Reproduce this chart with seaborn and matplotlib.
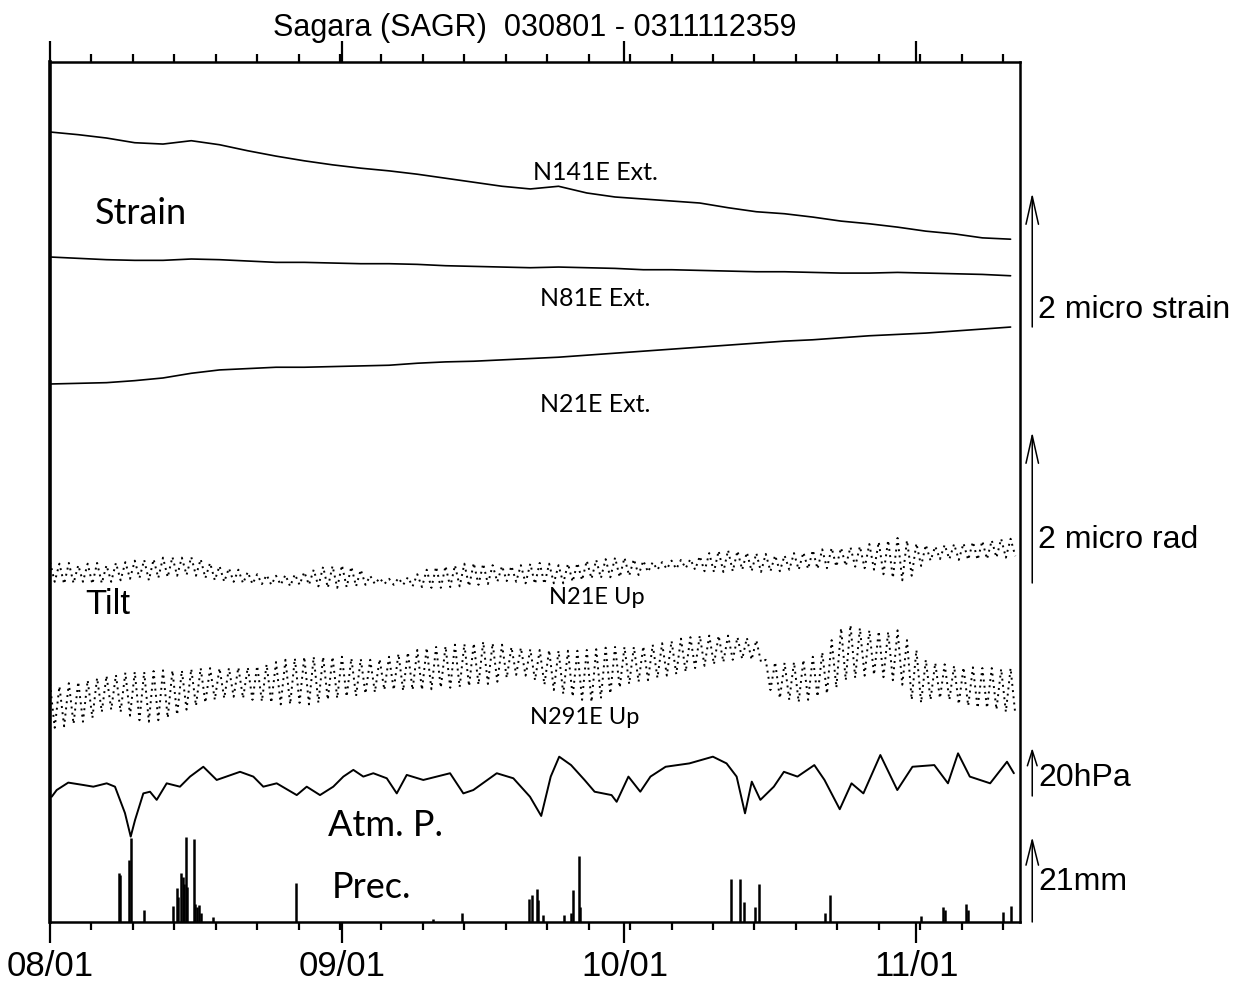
import numpy as np
import pandas as pd
import seaborn as sns
import matplotlib.pyplot as plt

sns.set_style('white')
plt.rcParams['font.family'] = ['Liberation Sans', 'DejaVu Sans']
plt.rcParams['text.color'] = 'black'
plt.rcParams['xtick.color'] = 'black'

# strain, microstrain relative to 08/01, every 3 days
strain_days = [0, 3, 6, 9, 12, 15, 18, 21, 24, 27, 30, 33, 36, 39, 42, 45, 48, 51,
               54, 57, 60, 63, 66, 69, 72, 75, 78, 81, 84, 87, 90, 93, 96, 99, 102]
n141e_ext = [0.00, -0.04, -0.09, -0.16, -0.18, -0.13, -0.19, -0.28, -0.36, -0.43, -0.49, -0.54,
             -0.58, -0.63, -0.69, -0.75, -0.81, -0.85, -0.81, -0.91, -0.97, -1.00, -1.03, -1.06,
             -1.13, -1.19, -1.22, -1.27, -1.33, -1.37, -1.42, -1.48, -1.52, -1.58, -1.60]
n81e_ext = [0.00, -0.02, -0.04, -0.05, -0.05, -0.03, -0.04, -0.06, -0.08, -0.08, -0.09, -0.10,
            -0.10, -0.11, -0.13, -0.14, -0.15, -0.16, -0.15, -0.16, -0.17, -0.19, -0.19, -0.20,
            -0.21, -0.22, -0.22, -0.23, -0.24, -0.24, -0.23, -0.24, -0.25, -0.26, -0.28]
n21e_ext = [0.00, 0.01, 0.02, 0.05, 0.09, 0.16, 0.21, 0.23, 0.25, 0.25, 0.26, 0.27,
            0.28, 0.31, 0.33, 0.34, 0.36, 0.38, 0.40, 0.43, 0.46, 0.49, 0.52, 0.55,
            0.58, 0.61, 0.64, 0.66, 0.69, 0.72, 0.74, 0.76, 0.79, 0.82, 0.85]

# tilt, microrad, daily high / low
tilt_days = np.arange(103)
n21e_up_hi = [0.17, 0.15, 0.16, 0.13, 0.15, 0.16, 0.13, 0.16, 0.17, 0.19,
              0.20, 0.21, 0.23, 0.24, 0.23, 0.24, 0.21, 0.16, 0.12, 0.09,
              0.07, 0.04, 0.01, 0.00, -0.01, 0.00, 0.01, 0.04, 0.07, 0.11,
              0.12, 0.13, 0.11, 0.07, -0.01, -0.04, -0.05, -0.04, -0.03, 0.01,
              0.07, 0.11, 0.12, 0.13, 0.15, 0.16, 0.15, 0.13, 0.12, 0.12,
              0.13, 0.15, 0.16, 0.15, 0.13, 0.15, 0.16, 0.19, 0.20, 0.21,
              0.23, 0.23, 0.21, 0.19, 0.17, 0.17, 0.19, 0.20, 0.21, 0.25,
              0.29, 0.32, 0.33, 0.32, 0.30, 0.29, 0.28, 0.26, 0.26, 0.29,
              0.30, 0.33, 0.34, 0.36, 0.36, 0.37, 0.38, 0.41, 0.44, 0.46,
              0.49, 0.46, 0.42, 0.40, 0.38, 0.40, 0.41, 0.42, 0.44, 0.45,
              0.46, 0.48, 0.48]
n21e_up_lo = [-0.09, -0.12, -0.11, -0.09, -0.12, -0.11, -0.09, -0.07, -0.05, -0.04,
              -0.07, -0.04, -0.03, -0.01, 0.00, -0.01, -0.04, -0.07, -0.09, -0.09,
              -0.11, -0.12, -0.12, -0.13, -0.13, -0.15, -0.13, -0.13, -0.15, -0.17,
              -0.17, -0.16, -0.15, -0.13, -0.12, -0.12, -0.13, -0.13, -0.15, -0.16,
              -0.17, -0.17, -0.16, -0.15, -0.15, -0.13, -0.12, -0.09, -0.08, -0.09,
              -0.11, -0.12, -0.12, -0.11, -0.11, -0.09, -0.07, -0.05, -0.04, -0.03,
              -0.03, -0.01, 0.00, 0.04, 0.07, 0.08, 0.08, 0.09, 0.07, 0.05,
              0.04, 0.04, 0.05, 0.07, 0.05, 0.04, 0.05, 0.05, 0.07, 0.07,
              0.08, 0.08, 0.09, 0.11, 0.12, 0.11, 0.09, 0.07, 0.01, -0.04,
              -0.07, -0.01, 0.12, 0.19, 0.21, 0.21, 0.20, 0.20, 0.20, 0.21,
              0.23, 0.23, 0.25]
n291e_up_hi = [0.08, 0.05, 0.09, 0.11, 0.13, 0.16, 0.19, 0.20, 0.23, 0.24,
               0.24, 0.25, 0.26, 0.26, 0.26, 0.28, 0.29, 0.29, 0.29, 0.29,
               0.30, 0.30, 0.32, 0.34, 0.37, 0.40, 0.42, 0.44, 0.44, 0.44,
               0.44, 0.44, 0.42, 0.41, 0.40, 0.41, 0.44, 0.48, 0.50, 0.53,
               0.56, 0.57, 0.58, 0.60, 0.61, 0.62, 0.64, 0.62, 0.60, 0.57,
               0.56, 0.54, 0.53, 0.53, 0.52, 0.52, 0.52, 0.53, 0.54, 0.56,
               0.57, 0.57, 0.57, 0.58, 0.60, 0.62, 0.65, 0.68, 0.70, 0.72,
               0.72, 0.72, 0.72, 0.70, 0.69, 0.66, 0.40, 0.37, 0.36, 0.37,
               0.40, 0.44, 0.50, 0.66, 0.82, 0.86, 0.82, 0.79, 0.78, 0.77,
               0.79, 0.66, 0.53, 0.40, 0.36, 0.34, 0.32, 0.30, 0.30, 0.29,
               0.29, 0.28, 0.29]
n291e_up_lo = [-0.50, -0.48, -0.45, -0.42, -0.37, -0.29, -0.26, -0.29, -0.34, -0.40,
               -0.42, -0.40, -0.37, -0.33, -0.26, -0.21, -0.17, -0.13, -0.11, -0.09,
               -0.11, -0.13, -0.15, -0.17, -0.19, -0.19, -0.17, -0.19, -0.17, -0.13,
               -0.11, -0.09, -0.08, -0.05, -0.03, 0.00, 0.00, -0.01, 0.00, 0.00,
               0.01, 0.03, 0.03, 0.04, 0.05, 0.07, 0.08, 0.11, 0.16, 0.20,
               0.19, 0.13, 0.07, 0.00, -0.05, -0.09, -0.13, -0.16, -0.11, -0.05,
               0.03, 0.08, 0.11, 0.13, 0.16, 0.19, 0.21, 0.24, 0.29, 0.32,
               0.34, 0.37, 0.40, 0.41, 0.40, 0.37, 0.00, -0.11, -0.13, -0.16,
               -0.13, -0.09, -0.05, 0.03, 0.13, 0.16, 0.19, 0.20, 0.17, 0.13,
               0.07, -0.13, -0.17, -0.13, -0.11, -0.13, -0.19, -0.21, -0.24, -0.24,
               -0.26, -0.29, -0.32]

# atmospheric pressure, hPa
atm_days = [0.18, 0.71, 1.94, 3.54, 4.60, 6.02, 6.90, 7.43, 7.96, 8.57, 9.03, 9.91,
            10.62, 11.33, 12.39, 13.80, 14.87, 16.28, 17.70, 20.18, 21.59, 22.65, 24.07,
            26.20, 27.26, 28.67, 30.08, 31.15, 32.21, 33.27, 34.33, 35.76, 36.82, 37.88,
            39.64, 42.48, 43.89, 44.95, 47.44, 49.20, 50.97, 52.16, 53.17, 54.07, 55.33,
            56.76, 57.83, 59.63, 60.17, 61.42, 62.68, 63.76, 65.37, 67.89, 70.39, 71.84,
            72.91, 73.80, 74.52, 75.43, 76.86, 77.93, 79.37, 81.16, 82.24, 83.86, 85.11,
            86.37, 88.17, 89.97, 91.58, 93.90, 95.35, 96.42, 97.67, 99.83, 101.62, 102.35]
atm_hpa = [1005.1, 1007.9, 1011.0, 1010.0, 1009.3, 1010.7, 1009.3, 1003.8, 998.3, 988.5,
           995.4, 1006.5, 1007.2, 1003.8, 1010.7, 1009.3, 1013.5, 1017.6, 1012.1, 1015.5,
           1013.5, 1009.3, 1010.7, 1005.8, 1009.3, 1005.8, 1009.3, 1013.5, 1016.3, 1013.5,
           1014.9, 1012.8, 1006.5, 1014.2, 1012.1, 1014.9, 1006.5, 1007.9, 1014.9, 1012.8,
           1005.1, 997.1, 1013.5, 1021.8, 1018.3, 1012.1, 1007.2, 1005.8, 1003.0, 1013.5,
           1007.2, 1013.5, 1017.6, 1019.0, 1021.8, 1019.0, 1013.5, 998.2, 1011.4, 1003.8,
           1009.3, 1015.5, 1013.5, 1018.3, 1012.1, 999.9, 1010.7, 1006.5, 1022.5, 1007.9,
           1017.6, 1018.3, 1010.7, 1023.2, 1013.5, 1010.7, 1019.7, 1014.9]

# precipitation, mm
prec_days = [7.30, 7.40, 8.42, 8.57, 10.01, 13.09, 13.45, 13.62, 13.88, 14.09, 14.26,
             14.44, 14.58, 15.29, 15.43, 15.64, 15.85, 16.07, 17.34, 26.12, 40.70, 43.72,
             50.81, 51.23, 51.66, 51.81, 52.38, 54.60, 55.33, 55.54, 56.22, 56.32, 72.34,
             73.30, 73.74, 74.89, 75.25, 82.32, 82.79, 92.47, 94.81, 94.99, 97.25, 97.49,
             101.20, 102.09]
prec_mm = [12.0, 11.5, 15.3, 20.8, 3.0, 4.0, 8.4, 6.2, 12.0, 11.0, 9.5,
           21.0, 8.7, 20.4, 4.5, 3.7, 4.2, 2.2, 1.2, 9.7, 0.7, 2.2,
           5.6, 6.6, 8.2, 5.4, 1.7, 1.7, 2.1, 7.8, 16.2, 3.7, 10.7,
           10.7, 4.9, 3.7, 9.5, 2.2, 6.6, 1.4, 3.7, 2.9, 4.5, 2.9,
           2.5, 4.0]

month_ticks = [0, 31, 61, 92]
month_labels = ['08/01', '09/01', '10/01', '11/01']

# vertical layout (plot units = pixels above the bottom frame)
STRAIN_SCALE = 67.0
TILT_SCALE = 75.5
HPA_SCALE = 2.4
MM_SCALE = 4.05

fig = plt.figure(figsize=(12.42, 9.86), dpi=100)
ax = fig.add_axes([50 / 1242, 64 / 986, 970 / 1242, 860 / 986])

for vals, base in [(n141e_ext, 790), (n81e_ext, 665), (n21e_ext, 538)]:
    sns.lineplot(x=strain_days, y=base + np.array(vals) * STRAIN_SCALE, ax=ax,
                 color='black', lw=1.2)

for hi, lo, base in [(n21e_up_hi, n21e_up_lo, 347), (n291e_up_hi, n291e_up_lo, 232)]:
    tilt = pd.DataFrame({'t': np.r_[tilt_days, tilt_days + 0.5],
                         'v': np.r_[hi, lo]}).sort_values('t')
    sns.lineplot(x=tilt['t'], y=base + tilt['v'] * TILT_SCALE, ax=ax, color='black',
                 lw=1.4, linestyle=(0, (1, 2.2)))

sns.lineplot(x=atm_days, y=137 + (np.array(atm_hpa) - 1010) * HPA_SCALE, ax=ax,
             color='black', lw=1.4)

ax.vlines(prec_days, 0, np.array(prec_mm) * MM_SCALE, color='black', lw=1.8)

# labels inside
lab = dict(family=['Lato', 'DejaVu Sans'], va='center', ha='left', color='black')
ax.text(4.8, 709, 'Strain', fontsize=26, **lab)
ax.text(51.3, 749, 'N141E Ext.', fontsize=18, **lab)
ax.text(52.0, 623, 'N81E Ext.', fontsize=18, **lab)
ax.text(52.0, 517, 'N21E Ext.', fontsize=18, **lab)
ax.text(3.7, 317, 'Tilt', fontsize=25, family=['Liberation Sans Narrow', 'Liberation Sans'],
        va='center', ha='left')
ax.text(53.0, 325, 'N21E Up', fontsize=17, **lab)
ax.text(51.0, 205, 'N291E Up', fontsize=17, **lab)
ax.text(29.5, 97, 'Atm. P.', fontsize=26, **lab)
ax.text(29.9, 34, 'Prec.', fontsize=26, **lab)

# scale arrows on the right
arrow_x = 104.3
for lo_u, hi_u, hl, hw, txt, ty in [(595, 729, 2.0, 0.45, '2 micro strain', 612),
                                   (339, 490, 2.0, 0.45, '2 micro rad', 382),
                                   (126, 174, 1.1, 0.35, '20hPa', 144),
                                   (0, 85, 1.8, 0.45, '21mm', 40)]:
    ax.annotate('', xy=(arrow_x, hi_u), xytext=(arrow_x, lo_u), annotation_clip=False,
                arrowprops=dict(arrowstyle=f'->,head_length={hl},head_width={hw}',
                                color='black', lw=1.1, shrinkA=0, shrinkB=0))
    ax.text(104.9, ty, txt, fontsize=23, va='center', ha='left')

fig.text(535 / 1242, 1 - 28 / 986, 'Sagara (SAGR)  030801 - 0311112359', fontsize=22,
         ha='center', va='center')

ax.set_xlim(0, 103)
ax.set_ylim(0, 860)
ax.set_yticks([])
ax.set_xlabel('')
ax.set_ylabel('')
ax.set_xticks(month_ticks)
ax.set_xticklabels(month_labels)
ax.set_xticks(np.arange(4.4, 103, 4.4), minor=True)
ax.tick_params(axis='x', which='major', direction='out', top=True, bottom=True,
               length=15, width=1.6, labelsize=25, pad=5)
ax.tick_params(axis='x', which='minor', direction='out', top=True, bottom=True,
               length=6, width=1.6)
for side in ['top', 'bottom', 'right']:
    ax.spines[side].set_linewidth(1.8)
    ax.spines[side].set_color('black')
ax.spines['left'].set_linewidth(2.6)
ax.spines['left'].set_color('black')

fig.savefig('out.png', dpi=100)
